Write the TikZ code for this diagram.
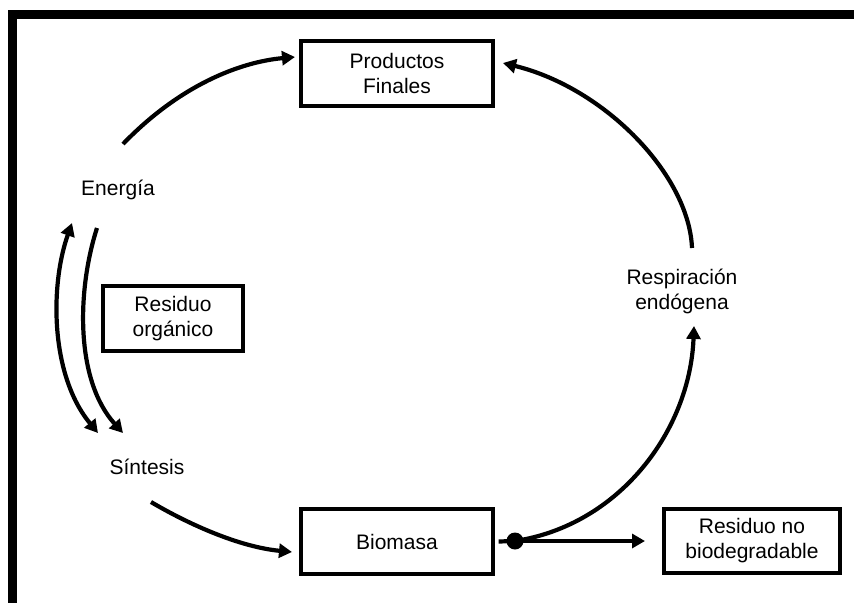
\documentclass[tikz,border=0pt]{standalone}
\usepackage{fontspec}
\setmainfont{Liberation Sans}
\usetikzlibrary{arrows.meta}
\begin{document}
\begin{tikzpicture}[x=1pt,y=-1pt,
  every node/.style={font=\fontsize{21}{25}\selectfont, align=center, inner sep=0pt},
  box/.style={draw, line width=3.3pt, minimum height=65pt},
  flow/.style={line width=4.2pt, -{Triangle[length=13pt,width=14pt]}},
  twoway/.style={line width=4.2pt, {Triangle[length=13pt,width=14pt]}-{Triangle[length=13pt,width=14pt]}}]
  \useasboundingbox (0,0) rectangle (854,603);

  % heavy frame along the top and left edges
  \fill (8,10) rectangle (854,19);
  \fill (8,10) rectangle (17,603);

  % boxes and labels
  \node[box, minimum width=192pt] (prod) at (397,73.5) {Productos\\Finales};
  \node[box, minimum width=192pt] (bio) at (397,541.5) {Biomasa};
  \node[box, minimum width=176pt, minimum height=64pt] (resno) at (752,541) {Residuo no\\biodegradable};
  \node[box, minimum width=140pt] (resorg) at (173,318.5) {Residuo\\orgánico};
  \node (energia) at (118,190) {Energía};
  \node (sintesis) at (147,467) {Síntesis};
  \node (resp) at (682,291) {Respiración\\endógena};

  % connector end points
  \coordinate (eOut) at (123,144);
  \coordinate (pIn) at (295,57);
  \coordinate (rOut) at (692,248);
  \coordinate (pIn2) at (503,63);
  \coordinate (split) at (515,541);
  \coordinate (rIn) at (694,326);
  \coordinate (sOut) at (151,502);
  \coordinate (bIn) at (292,552);
  \coordinate (eTop) at (72,223);
  \coordinate (sBot) at (98,433);
  \coordinate (eOut2) at (97,228);
  \coordinate (sIn) at (123,433);
  \coordinate (nIn) at (645,541);

  % cycle arrows
  \draw[flow] (eOut) .. controls (180,85) and (240,62) .. (pIn);
  \draw[flow] (rOut) .. controls (689,175) and (605,88) .. (pIn2);
  \draw[flow] (split) .. controls (620,525) and (690,430) .. (rIn);
  \draw[flow] (sOut) .. controls (190,525) and (240,547) .. (bIn);
  \draw[twoway] (eTop) .. controls (50,285) and (50,375) .. (sBot);
  \draw[flow] (eOut2) .. controls (77,290) and (75,380) .. (sIn);

  % branch to the non-biodegradable residue
  \draw[line width=4.2pt] (bio.east) ++(4,0) -- (split);
  \draw[flow] (split) -- (nIn);
  \fill (split) circle (8.5pt);
\end{tikzpicture}
\end{document}
